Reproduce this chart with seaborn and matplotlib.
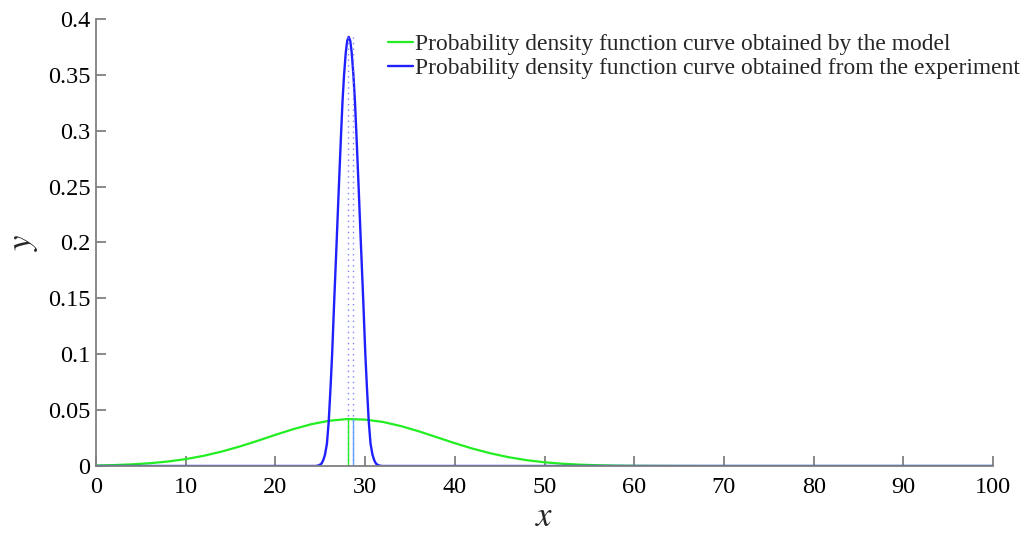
import numpy as np
import pandas as pd
import matplotlib
matplotlib.use("Agg")
import matplotlib.pyplot as plt
import seaborn as sns

# ---- data ----
model_x = [0, 2, 4, 6, 8, 10, 12, 14, 16, 18, 20, 22, 24, 26, 28, 30, 32, 34, 36, 38,
           40, 42, 44, 46, 48, 50, 52, 54, 56, 58, 60, 65, 70, 80, 90, 100]
model_y = [0.00045, 0.00083, 0.00147, 0.00248, 0.0040, 0.00618, 0.00912, 0.0129, 0.0174,
           0.0225, 0.0279, 0.0330, 0.0374, 0.0405, 0.0420, 0.0415, 0.0394, 0.0357, 0.0310,
           0.0257, 0.0204, 0.0155, 0.0113, 0.00785, 0.00522, 0.00332, 0.00202, 0.00118,
           0.00066, 0.00035, 0.00018, 0.00003, 0.0, 0.0, 0.0, 0.0]

exp_x = [0, 10, 20, 24.47, 24.82, 25.12, 25.32, 25.52, 25.74, 25.94, 26.14, 26.32, 26.555,
         26.82, 27.07, 27.33, 27.485, 27.65, 27.84, 28.0, 28.17, 28.34, 28.5, 28.69, 28.855,
         29.01, 29.27, 29.52, 29.785, 30.02, 30.2, 30.4, 30.6, 30.82, 31.02, 31.22, 31.52,
         31.87, 37, 50, 100]
exp_y = [0.0, 0.0, 0.0, 0.0, 0.0005, 0.002, 0.005, 0.01, 0.02, 0.04, 0.07, 0.10, 0.1486,
         0.20, 0.25, 0.30, 0.3275, 0.35, 0.37, 0.3805, 0.384, 0.3805, 0.37, 0.35, 0.3275,
         0.30, 0.25, 0.20, 0.1486, 0.10, 0.07, 0.04, 0.02, 0.01, 0.005, 0.002, 0.0005, 0.0,
         0.0, 0.0, 0.0]

# mean markers
marker_x = [28.1, 28.65]
model_marker_top = 0.042
exp_marker_top = 0.384

label_model = "Probability density function curve obtained by the model"
label_exp = "Probability density function curve obtained from the experiment"

x_ticks = [0, 10, 20, 30, 40, 50, 60, 70, 80, 90, 100]
y_ticks = [0, 0.05, 0.1, 0.15, 0.2, 0.25, 0.3, 0.35, 0.4]
y_tick_labels = ["0", "0.05", "0.1", "0.15", "0.2", "0.25", "0.3", "0.35", "0.4"]

GREEN = "#22ee22"
BLUE = "#2020ff"
AXIS = "#808080"

sns.set_style("ticks")
plt.rcParams["font.family"] = ["Liberation Serif", "DejaVu Serif"]
plt.rcParams["mathtext.fontset"] = "stix"

fig = plt.figure(figsize=(10.27, 5.36), dpi=100)
ax = fig.add_axes([0.0935, 0.1306, 0.8735, 0.834])

df_model = pd.DataFrame({"x": model_x, "y": model_y})
df_exp = pd.DataFrame({"x": exp_x, "y": exp_y})

sns.lineplot(data=df_model, x="x", y="y", ax=ax, color=GREEN, lw=1.6, label=label_model)
sns.lineplot(data=df_exp, x="x", y="y", ax=ax, color=BLUE, lw=1.7, label=label_exp)

ax.vlines(marker_x, 0, exp_marker_top, colors="#8080ff", linestyles=(0, (1, 3)), lw=1.0)
ax.vlines(marker_x, 0, model_marker_top, colors=[GREEN, "#60a0ff"], lw=1.0)

ax.set_xlim(0, 100)
ax.set_ylim(0, 0.4)
ax.set_xticks(x_ticks)
ax.set_yticks(y_ticks)
ax.set_yticklabels(y_tick_labels)

for s in ["top", "right"]:
    ax.spines[s].set_visible(False)
for s in ["left", "bottom"]:
    ax.spines[s].set_color(AXIS)
    ax.spines[s].set_linewidth(1.3)
ax.tick_params(direction="in", length=7, width=1.3, color=AXIS,
               labelsize=17.5, labelcolor="black")
ax.tick_params(axis="x", pad=8)
ax.tick_params(axis="y", pad=4)

ax.set_xlabel("$x$", fontsize=25, labelpad=2)
ax.set_ylabel("$y$", fontsize=25, labelpad=6)

leg = ax.legend(loc="upper left", bbox_to_anchor=(0.3255, 0.967), frameon=False,
                fontsize=16.9, handlelength=1.07, handletextpad=0.1, labelspacing=0.1,
                borderaxespad=0.0, borderpad=0.0)

fig.savefig("out.png", dpi=100)
